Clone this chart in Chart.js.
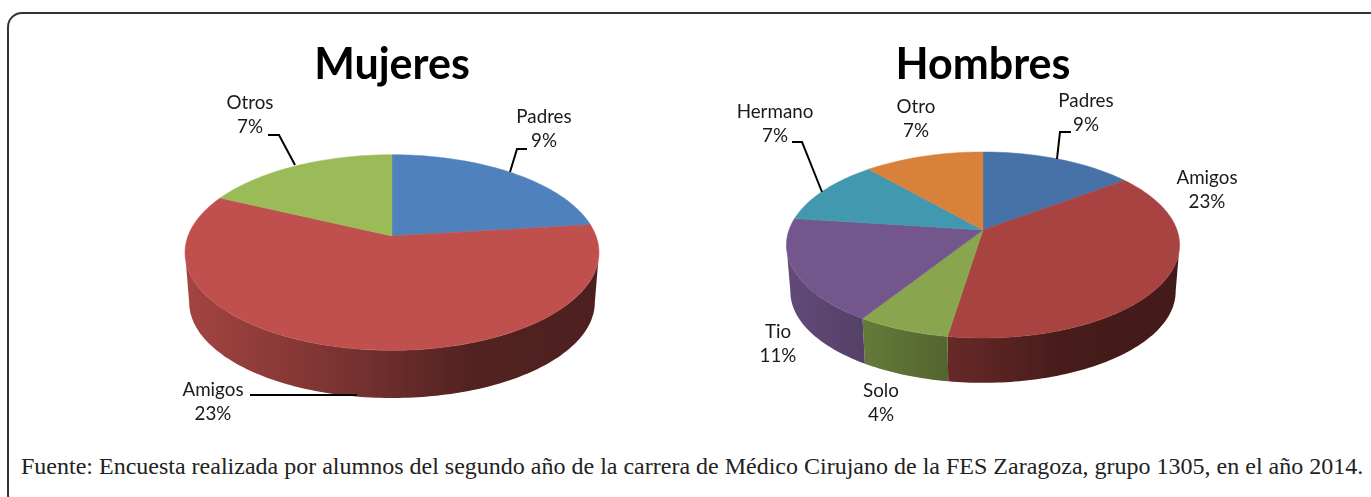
<!DOCTYPE html>
<html>
<head>
<meta charset="utf-8">
<title>Mujeres y Hombres</title>
<script src="https://cdn.jsdelivr.net/npm/chart.js@4"></script>
<style>
  html, body { margin: 0; padding: 0; background: #fff; overflow: hidden; width: 1371px; height: 497px; }
  canvas { position: absolute; top: 0; }
  #frame { position: absolute; left: 7px; top: 12px; width: 1500px; height: 494px; border: 2.5px solid #333; border-radius: 15px; }
  #fuente { position: absolute; left: 21px; top: 453px; font: 24px "Liberation Serif", serif; color: #222; white-space: nowrap; }
</style>
</head>
<body>
<div id="frame"></div>
<canvas id="mujeres" width="784" height="440" style="left:0"></canvas>
<canvas id="hombres" width="776" height="440" style="left:595px"></canvas>
<div id="fuente">Fuente: Encuesta realizada por alumnos del segundo año de la carrera de Médico Cirujano de la FES Zaragoza, grupo 1305, en el año 2014.</div>
<script>
// Data
const mujeresLabels = ['Padres', 'Amigos', 'Otros'];
const mujeresValues = [9, 23, 7];
const mujeresColors = ['#4F81BD', '#C0504D', '#9BBB59'];

const hombresLabels = ['Padres', 'Amigos', 'Solo', 'Tio', 'Hermano', 'Otro'];
const hombresValues = [9, 23, 4, 11, 7, 7];
const hombresColors = ['#4672A7', '#A84341', '#89A54E', '#73578C', '#4198AF', '#D8813B'];

// Where things sit on the page (labels are line centres, leaders are polylines)
const mujeresLayout = {
    apexY: 236, rx: 204, ry: 95, persp: 0.169, depth: 50, wallScale: 0.98,
    labelAt: [[544, 117], [213, 390], [250, 103]],
    leaders: [
        [[527, 149], [517, 149], [510, 172]],
        [[250, 395], [357, 395]],
        [[268, 135], [279, 135], [295, 165]]
    ]
};
const hombresLayout = {
    apexY: 230, rx: 194, ry: 90.6, persp: 0.161, depth: 47, wallScale: 0.98,
    labelAt: [[1086, 101], [1207, 178], [881, 391], [778, 332], [775, 112], [916, 107]],
    leaders: [
        [[1071, 132], [1060, 132], [1057, 159]],
        [[792, 142], [802, 142], [822, 192]]
    ]
};

const labelFont = '18.8px Lato, sans-serif';
const wallStops = [[0, 0.85], [0.4, 0.62], [0.7, 0.42], [1, 0.4]];

function shade(hex, f) {
    const n = parseInt(hex.slice(1), 16);
    const r = Math.round((n >> 16) * f);
    const g = Math.round(((n >> 8) & 255) * f);
    const b = Math.round((n & 255) * f);
    return `rgb(${r},${g},${b})`;
}

// Project an angle of the flat pie on to the tilted disc
function project(arc, lay, a, scale, dy) {
    const u = Math.cos(a);
    const v = Math.sin(a);
    const s = scale / (1 - lay.persp * v);
    return [arc.x + lay.rx * u * s, lay.apexY + dy + lay.ry * v * s];
}

function arcPoints(arc, lay, from, to, scale, dy) {
    const steps = Math.max(4, Math.ceil((to - from) / 0.02));
    const pts = [];
    for (let i = 0; i <= steps; i++) {
        pts.push(project(arc, lay, from + (to - from) * i / steps, scale, dy));
    }
    return pts;
}

// Draws the slices of the library's arcs as a 3D disc
const pie3d = {
    id: 'pie3d',
    beforeDatasetDraw(chart, args, opts) {
        const ctx = chart.ctx;
        const lay = opts.layout;
        const arcs = args.meta.data;
        // only the front of the side wall shows, between the two tangent points
        const wallFrom = Math.asin(lay.persp);
        const wallTo = Math.PI - wallFrom;

        arcs.forEach(arc => {
            const from = Math.max(arc.startAngle, wallFrom);
            const to = Math.min(arc.endAngle, wallTo);
            if (from >= to) return;
            const color = arc.options.backgroundColor;
            const top = arcPoints(arc, lay, from, to, 1, 0);
            const bottom = arcPoints(arc, lay, from, to, lay.wallScale, lay.depth);
            const grad = ctx.createLinearGradient(arc.x - lay.rx, 0, arc.x + lay.rx, 0);
            wallStops.forEach(s => grad.addColorStop(s[0], shade(color, s[1])));
            ctx.beginPath();
            top.concat(bottom.reverse()).forEach(p => ctx.lineTo(p[0], p[1]));
            ctx.closePath();
            ctx.fillStyle = grad;
            ctx.fill();
        });

        arcs.forEach(arc => {
            ctx.beginPath();
            ctx.moveTo(arc.x, lay.apexY);
            arcPoints(arc, lay, arc.startAngle, arc.endAngle, 1, 0).forEach(p => ctx.lineTo(p[0], p[1]));
            ctx.closePath();
            ctx.fillStyle = arc.options.backgroundColor;
            ctx.strokeStyle = arc.options.backgroundColor;
            ctx.lineWidth = 0.5;
            ctx.fill();
            ctx.stroke();
        });
        return false;
    },
    afterDatasetsDraw(chart, args, opts) {
        const ctx = chart.ctx;
        const lay = opts.layout;
        const left = chart.canvas.offsetLeft;

        ctx.save();
        ctx.strokeStyle = '#000';
        ctx.lineWidth = 2;
        lay.leaders.forEach(line => {
            ctx.beginPath();
            line.forEach(p => ctx.lineTo(p[0] - left, p[1]));
            ctx.stroke();
        });

        ctx.font = labelFont;
        ctx.fillStyle = '#1a1a1a';
        ctx.textAlign = 'center';
        ctx.textBaseline = 'middle';
        chart.data.labels.forEach((label, i) => {
            const at = lay.labelAt[i];
            ctx.fillText(label, at[0] - left, at[1]);
            ctx.fillText(chart.data.datasets[0].data[i] + '%', at[0] - left, at[1] + 24);
        });
        ctx.restore();
    }
};

function drawPie(id, titleText, labels, values, colors, layout) {
    return new Chart(document.getElementById(id), {
        type: 'pie',
        data: {
            labels: labels,
            datasets: [{ data: values, backgroundColor: colors, borderWidth: 0 }]
        },
        options: {
            responsive: false,
            animation: false,
            plugins: {
                legend: { display: false },
                tooltip: { enabled: false },
                pie3d: { layout: layout },
                title: {
                    display: true,
                    text: titleText,
                    color: '#000',
                    font: { family: 'Lato, sans-serif', size: 43, weight: 'bold' },
                    padding: { top: 39, bottom: 10 }
                }
            }
        },
        plugins: [pie3d]
    });
}

drawPie('mujeres', 'Mujeres', mujeresLabels, mujeresValues, mujeresColors, mujeresLayout);
drawPie('hombres', 'Hombres', hombresLabels, hombresValues, hombresColors, hombresLayout);
</script>
</body>
</html>
